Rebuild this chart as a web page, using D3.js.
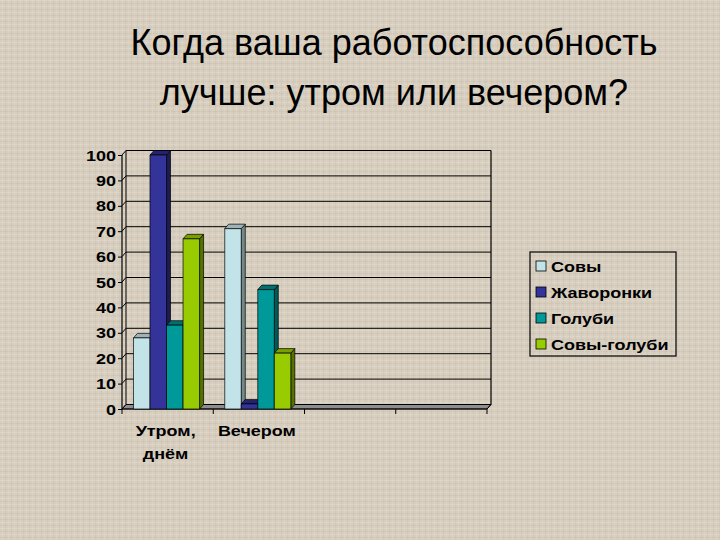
<!DOCTYPE html>
<html>
<head>
<meta charset="utf-8">
<script src="https://cdn.jsdelivr.net/npm/d3@7"></script>
<style>
html,body{margin:0;padding:0;background:#d6cdbd;}
svg{display:block;}
</style>
</head>
<body>
<svg id="chart" width="720" height="540"></svg>
<script>
// ---- data ----
const titleLines = ["Когда ваша работоспособность", "лучше: утром или вечером?"];
const categories = ["Утром, днём", "Вечером", "", ""];
const seriesNames = ["Совы", "Жаворонки", "Голуби", "Совы-голуби"];
const sovy       = [28, 71, null, null];
const zhavoronki = [100, 2, null, null];
const golubi     = [33, 47, null, null];
const sovyGolubi = [67, 22, null, null];
const yTicks = [0, 10, 20, 30, 40, 50, 60, 70, 80, 90, 100];

const seriesValues = [sovy, zhavoronki, golubi, sovyGolubi];
const colors = {
  front: ["#c2e4e8", "#333399", "#009999", "#99cc00"],
  top:   ["#9fb3b6", "#24246e", "#007070", "#7aa000"],
  side:  ["#738a8d", "#1c1c55", "#005a5a", "#557200"]
};

const svg = d3.select("#chart");

// background texture (linen)
const defs = svg.append("defs");
const pat = defs.append("pattern").attr("id", "linen").attr("width", 6).attr("height", 6)
  .attr("patternUnits", "userSpaceOnUse");
pat.append("rect").attr("width", 6).attr("height", 6).attr("fill", "#d7cebf");
pat.append("rect").attr("x", 0).attr("y", 0).attr("width", 6).attr("height", 1).attr("fill", "#dfd7c9").attr("opacity", 0.8);
pat.append("rect").attr("x", 0).attr("y", 3).attr("width", 6).attr("height", 1).attr("fill", "#cec4b2").attr("opacity", 0.7);
pat.append("rect").attr("x", 2).attr("y", 0).attr("width", 1).attr("height", 6).attr("fill", "#ddd5c7").attr("opacity", 0.5);
pat.append("rect").attr("x", 5).attr("y", 0).attr("width", 1).attr("height", 6).attr("fill", "#ccc2b0").attr("opacity", 0.45);
svg.append("rect").attr("width", 720).attr("height", 540).attr("fill", "url(#linen)");

// title
svg.append("text")
  .attr("x", 394).attr("text-anchor", "middle")
  .attr("font-family", "Liberation Sans, Arial, sans-serif")
  .attr("font-size", 36).attr("fill", "#000")
  .selectAll("tspan").data(titleLines).join("tspan")
  .attr("x", 394).attr("y", (d, i) => 55 + i * 50).text(d => d);

// geometry
const left = 122, right = 487, yBottom = 409, yTop = 155;
const dx = 4, dy = -4.5;

const y = d3.scaleLinear().domain([0, 100]).range([yBottom, yTop]);
const x0 = d3.scaleBand().domain(d3.range(categories.length)).range([left, right]).padding(0);
const x1 = d3.scaleBand().domain(d3.range(seriesNames.length))
  .range([x0.bandwidth() * 0.126, x0.bandwidth() * 0.85]).padding(0);

const line = (g, x1_, y1_, x2_, y2_, w = 1, c = "#000") =>
  g.append("line").attr("x1", x1_).attr("y1", y1_).attr("x2", x2_).attr("y2", y2_)
   .attr("stroke", c).attr("stroke-width", w);

const plot = svg.append("g");

// floor
plot.append("path")
  .attr("d", `M${left},${yBottom} L${right},${yBottom} L${right + dx},${yBottom + dy} L${left + dx},${yBottom + dy} Z`)
  .attr("fill", "#8e8e8e").attr("stroke", "#000").attr("stroke-width", 0.8);

// gridlines on side wall + back wall
yTicks.forEach(t => {
  const yf = y(t);
  plot.append("polyline")
    .attr("points", `${left},${yf} ${left + dx},${yf + dy} ${right + dx},${yf + dy}`)
    .attr("fill", "none").attr("stroke", "#000").attr("stroke-width", 1);
});
// wall edges
line(plot, left + dx, y(100) + dy, left + dx, yBottom + dy, 1);
line(plot, right + dx, y(100) + dy, right + dx, yBottom + dy, 1.2);
line(plot, right, yBottom, right + dx, yBottom + dy, 1);
// front axis line
line(plot, left, yTop, left, yBottom, 1.2);
line(plot, left, yBottom, right, yBottom, 1.2);

// y ticks and labels
const yAxis = d3.axisLeft(y).tickValues(yTicks).tickSize(4).tickPadding(2);
const yg = svg.append("g").attr("transform", `translate(${left},0)`).call(yAxis);
yg.select(".domain").remove();
yg.selectAll(".tick line").attr("stroke", "#000");
yg.selectAll(".tick text").remove();
yTicks.forEach(t => {
  svg.append("text")
    .attr("transform", `translate(${left - 6},${y(t) + 5.5}) scale(1.2,1)`)
    .attr("text-anchor", "end")
    .attr("font-family", "Liberation Sans, Arial, sans-serif")
    .attr("font-weight", "bold").attr("font-size", 15).attr("fill", "#000")
    .text(t);
});

// x ticks
const catBounds = d3.range(categories.length + 1).map(i => left + i * x0.bandwidth());
catBounds.forEach(xb => line(svg, xb, yBottom, xb, yBottom + 5, 1));

// category labels
categories.forEach((c, i) => {
  if (!c) return;
  const cx = x0(i) + x0.bandwidth() / 2 - 2;
  const parts = c.includes(", ") ? [c.split(", ")[0] + ",", c.split(", ")[1]] : [c];
  parts.forEach((p, j) => {
    svg.append("text")
      .attr("transform", `translate(${cx},${435.5 + j * 23.5}) scale(1.2,1)`)
      .attr("text-anchor", "middle")
      .attr("font-family", "Liberation Sans, Arial, sans-serif")
      .attr("font-weight", "bold").attr("font-size", 15).attr("fill", "#000")
      .text(p);
  });
});

// bars
const bars = plot.append("g");
categories.forEach((c, ci) => {
  seriesValues.forEach((vals, si) => {
    const v = vals[ci];
    if (v == null) return;
    const bx = x0(ci) + x1(si);
    const bw = x1.bandwidth();
    const ty = y(v), by = y(0);
    const g = bars.append("g").attr("stroke", "#000").attr("stroke-width", 0.7).attr("stroke-linejoin", "round");
    g.append("path")
      .attr("d", `M${bx + bw},${ty} L${bx + bw + dx},${ty + dy} L${bx + bw + dx},${by + dy} L${bx + bw},${by} Z`)
      .attr("fill", colors.side[si]);
    g.append("path")
      .attr("d", `M${bx},${ty} L${bx + dx},${ty + dy} L${bx + bw + dx},${ty + dy} L${bx + bw},${ty} Z`)
      .attr("fill", colors.top[si]);
    g.append("rect").attr("x", bx).attr("y", ty).attr("width", bw).attr("height", Math.max(0, by - ty))
      .attr("fill", colors.front[si]);
  });
});

// legend
const lg = svg.append("g");
lg.append("rect").attr("x", 530).attr("y", 252).attr("width", 146).attr("height", 104)
  .attr("fill", "none").attr("stroke", "#000").attr("stroke-width", 1.2);
seriesNames.forEach((n, i) => {
  const cy = 266 + i * 26;
  lg.append("rect").attr("x", 536).attr("y", cy - 5).attr("width", 10).attr("height", 10)
    .attr("fill", colors.front[i]).attr("stroke", "#000").attr("stroke-width", 0.8);
  lg.append("text")
    .attr("transform", `translate(551,${cy + 5.5}) scale(1.2,1)`)
    .attr("font-family", "Liberation Sans, Arial, sans-serif")
    .attr("font-weight", "bold").attr("font-size", 15).attr("fill", "#000")
    .text(n);
});
</script>
</body>
</html>
